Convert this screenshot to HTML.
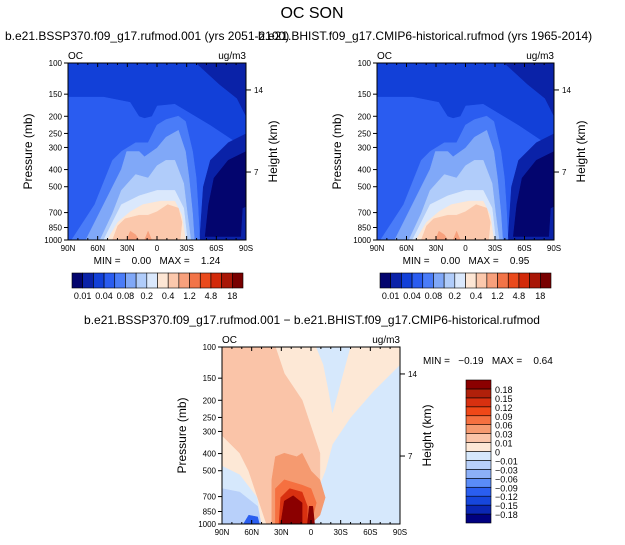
<!DOCTYPE html>
<html><head><meta charset="utf-8"><style>
body{margin:0;background:#fff;}
svg{display:block;font-family:"Liberation Sans",sans-serif;}
text{white-space:pre;}
</style></head><body>
<svg id="c" width="625" height="545" viewBox="0 0 625 545">
<text x="312" y="18" text-anchor="middle" font-size="16">OC SON</text>
</svg>
<script>
const NS="http://www.w3.org/2000/svg";
const svg=document.getElementById('c');
const latTicks=[90,60,30,0,-30,-60,-90];
const latLabels=['90N','60N','30N','0','30S','60S','90S'];
const presTicks=[100,150,200,250,300,400,500,700,850,1000];
const hgtTicks=[14,7];
const hgtPres=[142,413];
const barColors=['#03056e','#0a22a8','#1240d8','#2a5cf0','#4a7cf8','#80a8f8','#b0ccfa','#dae8fc','#fde6d4','#fbc8ac','#f7a07c','#f27448','#ea4a1c','#d22a0a','#a81606','#780000'];
const barLabels=['0.01','0.04','0.08','0.2','0.4','1.2','4.8','18'];
const diffColors=['#000080','#0a26b4','#1646dc','#2a5ef0','#5a8cf8','#8cb0f8','#b8d0fa','#d6e8fc','#fde8d6','#fac4a8','#f59a70','#f57040','#f04818','#d83010','#b0200a','#8b0000'];
const diffLabels=['-0.18','-0.15','-0.12','-0.09','-0.06','-0.03','-0.01','0','0.01','0.03','0.06','0.09','0.12','0.15','0.18'];
function P(fx,fy){return [90-fx*180, Math.pow(10,2+fy)];}
const meanRegions=[
 [3,[[0,0],[1,0],[1,1],[0,1]]],
 [2,[[0,0],[1,0],[1,0.5],[0.95,0.45],[0.8,0.35],[0.6,0.23],[0.5,0.24],[0.47,0.3],[0.43,0.31],[0.4,0.3],[0.35,0.22],[0.2,0.19],[0,0.19]]],
 [1,[[0.72,0],[1,0],[1,0.3],[0.95,0.2],[0.85,0.12]]],
 [1,[[1,0.4],[0.9,0.45],[0.8,0.55],[0.76,0.7],[0.74,1],[1,1]]],
 [0,[[1,0.5],[0.9,0.55],[0.82,0.65],[0.79,0.8],[0.77,0.98],[0.97,0.98],[0.98,0.82],[1,0.81]]],
 [4,[[0.02,1],[0.15,0.8],[0.25,0.55],[0.3,0.5],[0.38,0.45],[0.45,0.45],[0.5,0.35],[0.55,0.32],[0.62,0.3],[0.66,0.33],[0.7,0.5],[0.72,0.65],[0.73,0.8],[0.74,1]]],
 [5,[[0.1,1],[0.2,0.8],[0.3,0.6],[0.33,0.5],[0.4,0.5],[0.43,0.53],[0.5,0.48],[0.55,0.42],[0.62,0.38],[0.66,0.5],[0.68,0.65],[0.7,0.85],[0.71,1]]],
 [6,[[0.18,1],[0.25,0.85],[0.3,0.72],[0.38,0.63],[0.45,0.65],[0.5,0.58],[0.55,0.55],[0.6,0.55],[0.65,0.68],[0.67,0.85],[0.69,1]]],
 [7,[[0.2,1],[0.25,0.9],[0.3,0.8],[0.4,0.75],[0.5,0.72],[0.6,0.72],[0.65,0.82],[0.67,1]]],
 [8,[[0.22,1],[0.28,0.9],[0.35,0.84],[0.42,0.8],[0.52,0.78],[0.6,0.78],[0.64,0.86],[0.66,1]]],
 [9,[[0.25,1],[0.28,0.92],[0.32,0.88],[0.4,0.86],[0.45,0.86],[0.5,0.84],[0.56,0.8],[0.62,0.82],[0.64,0.9],[0.63,1]]],
 [10,[[0.33,1],[0.35,0.95],[0.38,0.97],[0.4,1]]],
 [10,[[0.43,1],[0.45,0.95],[0.47,1]]]
];
const diffRegions=[
 [7,[[0,0],[1,0],[1,1],[0,1]]],
 [8,[[0,0],[1,0],[1,0.1],[0.85,0.25],[0.72,0.4],[0.62,0.55],[0.58,0.7],[0.52,0.85],[0.45,1],[0.22,1],[0.2,0.85],[0.1,0.72],[0,0.67]]],
 [7,[[0.53,0],[0.72,0],[0.68,0.15],[0.64,0.3],[0.62,0.37],[0.6,0.25],[0.57,0.1]]],
 [9,[[0,0],[0.3,0],[0.35,0.15],[0.45,0.3],[0.5,0.45],[0.55,0.6],[0.55,0.75],[0.5,0.9],[0.45,1],[0.25,1],[0.2,0.85],[0.15,0.7],[0.1,0.6],[0,0.5]]],
 [10,[[0.28,1],[0.28,0.75],[0.3,0.62],[0.35,0.6],[0.42,0.62],[0.45,0.6],[0.5,0.7],[0.55,0.75],[0.58,0.85],[0.55,0.95],[0.5,1]]],
 [11,[[0.3,1],[0.3,0.8],[0.35,0.75],[0.45,0.78],[0.5,0.8],[0.53,0.88],[0.5,1]]],
 [13,[[0.32,1],[0.33,0.85],[0.38,0.8],[0.45,0.82],[0.48,0.9],[0.48,1]]],
 [15,[[0.33,1],[0.35,0.87],[0.4,0.84],[0.45,0.88],[0.45,1]]],
 [15,[[0.48,1],[0.49,0.9],[0.51,0.9],[0.52,1]]],
 [6,[[0,0.8],[0.1,0.82],[0.2,0.9],[0.22,1],[0,1]]],
 [3,[[0.12,1],[0.15,0.95],[0.2,0.96],[0.21,1]]]
];
function el(tag,attrs,parent){const e=document.createElementNS(NS,tag);for(const k in attrs)e.setAttribute(k,attrs[k]);(parent||svg).appendChild(e);return e;}
function txt(x,y,s,size,anchor,name){const t=el('text',{x:x,y:y,'font-size':size,'text-anchor':anchor||'start'});t.textContent=s;


return t;}
function panel(x0,y0,w,h,regions,colors,name){
 const xs=lat=>x0+(90-lat)/180*w;
 const ys=p=>y0+(Math.log10(p)-2)*h;
 const g=el('g',{});
 
 
 regions.forEach(r=>{
  const pts=r[1].map(q=>{const d=P(q[0],q[1]);return xs(d[0]).toFixed(1)+','+ys(d[1]).toFixed(1);}).join(' ');
  const pg=el('polygon',{points:pts,fill:colors[r[0]],stroke:colors[r[0]],'stroke-width':0.5},g);
  
  
 });
 const fr=el('rect',{x:x0,y:y0,width:w,height:h,fill:'none',stroke:'#000','stroke-width':1},g);
 
 
 latTicks.forEach((lat,i)=>{const x=xs(lat);
  el('line',{x1:x,x2:x,y1:y0+h,y2:y0+h-4,stroke:'#000'},g);
  el('line',{x1:x,x2:x,y1:y0,y2:y0+4,stroke:'#000'},g);
  txt(x,y0+h+11,latLabels[i],8,'middle','x-tick-label');});
 for(let lat=80;lat>-90;lat-=10){if(lat%30===0)continue;const x=xs(lat);
  el('line',{x1:x,x2:x,y1:y0+h,y2:y0+h-2,stroke:'#000'},g);el('line',{x1:x,x2:x,y1:y0,y2:y0+2,stroke:'#000'},g);}
 presTicks.forEach(p=>{const y=ys(p);el('line',{x1:x0-4,x2:x0,y1:y,y2:y,stroke:'#000'},g);
  txt(x0-6,y+3,String(p),8,'end','y-tick-label');});
 hgtTicks.forEach((km,i)=>{const y=ys(hgtPres[i]);
  el('line',{x1:x0+w,x2:x0+w+5,y1:y,y2:y,stroke:'#000'},g);txt(x0+w+8,y+3,String(km),8,'start','height-tick-label');});
 const yl=txt(0,0,'Pressure (mb)',12,'middle','y-axis-title');yl.setAttribute('transform',`translate(${x0-36},${y0+h/2}) rotate(-90)`);
 const hl=txt(0,0,'Height (km)',12,'middle','height-axis-title');hl.setAttribute('transform',`translate(${x0+w+31},${y0+h/2}) rotate(-90)`);
 txt(x0,y0-4,'OC',10,'start','variable-label');
 txt(x0+w,y0-4,'ug/m3',10,'end','units-label');
}
function hbar(x0,y0,w,h){
 const bw=w/barColors.length;
 barColors.forEach((c,i)=>{const r=el('rect',{x:x0+i*bw,y:y0,width:bw,height:h,fill:c,stroke:'#000','stroke-width':0.6});
  
  });
 barLabels.forEach((s,i)=>txt(x0+(2*i+1)*bw,y0+h+11,s,9,'middle','colorbar-label'));
}
panel(68,63,178,177,meanRegions,barColors,'panel-ssp370');
panel(377,63,177,177,meanRegions,barColors,'panel-historical');
panel(222,347,178,177,diffRegions,diffColors,'panel-difference');
txt(5,40,'b.e21.BSSP370.f09_g17.rufmod.001 (yrs 2051-2100)',12,'start','panel-title-ssp370');
txt(258,40,'b.e21.BHIST.f09_g17.CMIP6-historical.rufmod (yrs 1965-2014)',12,'start','panel-title-historical');
txt(312,324,'b.e21.BSSP370.f09_g17.rufmod.001 \u2212 b.e21.BHIST.f09_g17.CMIP6-historical.rufmod',12,'middle','panel-title-difference');
txt(157,264,'MIN =    0.00   MAX =    1.24',10,'middle','minmax-ssp370');
txt(466,264,'MIN =    0.00   MAX =    0.95',10,'middle','minmax-historical');
txt(423,364,'MIN =   \u22120.19   MAX =    0.64',10,'start','minmax-difference');
hbar(72,273,171,15);
hbar(380,273,171,15);
(function(){const x0=466,y0=380,w=25,h=143,bh=h/diffColors.length;
 diffColors.forEach((c,i)=>{const r=el('rect',{x:x0,y:y0+h-(i+1)*bh,width:w,height:bh,fill:c,stroke:'#000','stroke-width':0.6});
  
  });
 diffLabels.forEach((s,i)=>txt(x0+w+4,y0+h-(i+1)*bh+4,s.replace('-','\u2212'),9,'start','diff-colorbar-label'));
})();
</script>
</body></html>
